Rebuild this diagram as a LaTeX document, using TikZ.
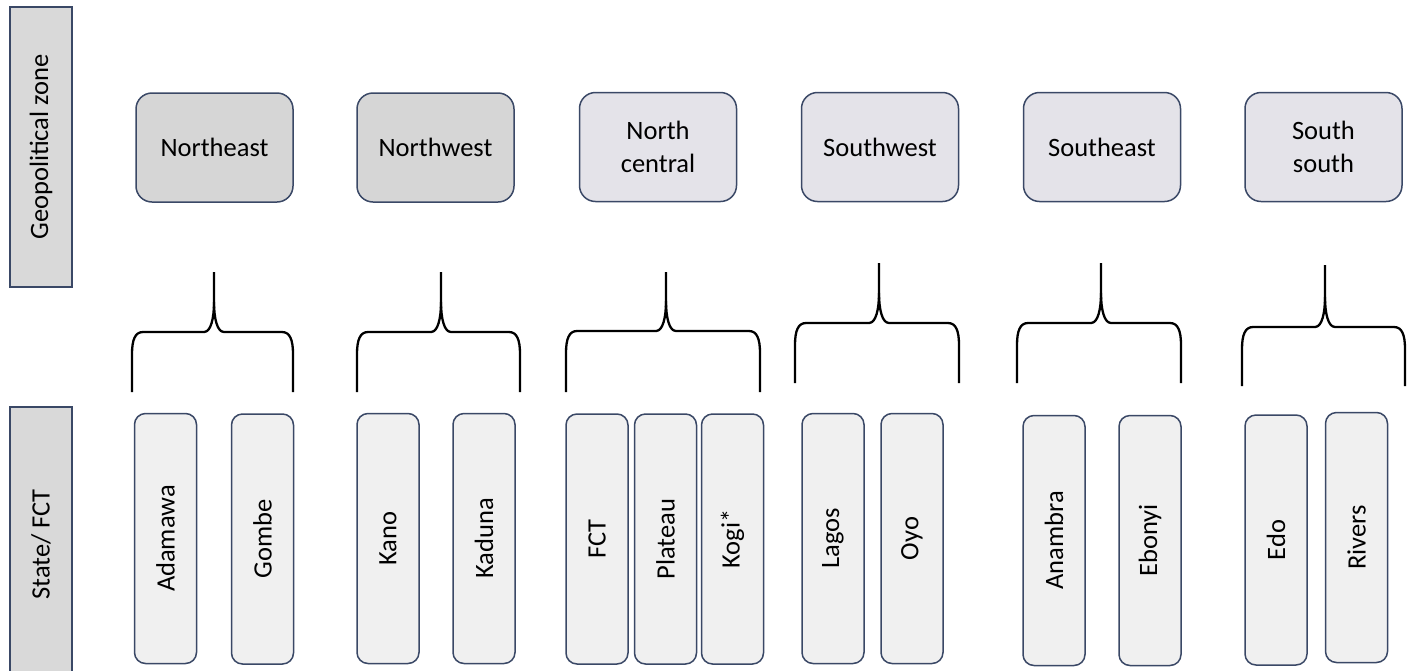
\documentclass[tikz,border=0pt]{standalone}
\usepackage{fontspec}
\setmainfont{Carlito}
\definecolor{boxline}{HTML}{3A4866}
\definecolor{zonedark}{HTML}{D6D6D6}
\definecolor{zonelight}{HTML}{E4E3E9}
\definecolor{statefill}{HTML}{F0F0F0}
\definecolor{sidefill}{HTML}{D9D9D9}
\newcommand{\boxfont}{\fontsize{26.5}{33}\selectfont}
\tikzset{
  zonebox/.style={rectangle,rounded corners=16pt,draw=boxline,line width=1.5pt,
    minimum width=157pt,minimum height=109pt,align=center,font=\boxfont},
  statebox/.style={rectangle,rounded corners=11pt,draw=boxline,fill=statefill,line width=1.5pt,
    rotate=90,minimum width=250pt,minimum height=62pt,inner sep=0pt,font=\boxfont},
  sidebox/.style={rectangle,draw=boxline,fill=sidefill,line width=1.5pt,
    rotate=90,minimum height=62pt,inner sep=0pt,font=\boxfont},
  bracket/.style={line width=2.3pt,line join=round}
}
% left, right, middle, top, bar, bottom
\newcommand{\zonebrace}[6]{%
  \draw[bracket] (#1,#6) -- (#1,#5+22) .. controls (#1,#5+8) and (#1+3,#5) .. (#1+11,#5)
    -- (#3-10,#5) .. controls (#3-3,#5) and (#3,#5-14) .. (#3,#5-30) -- (#3,#4);
  \draw[bracket] (#3,#5-30) .. controls (#3,#5-14) and (#3+3,#5) .. (#3+10,#5)
    -- (#2-11,#5) .. controls (#2-3,#5) and (#2,#5+8) .. (#2,#5+22) -- (#2,#6);
}

\begin{document}
\begin{tikzpicture}[x=1pt,y=-1pt]
    \useasboundingbox (0,0) rectangle (1411,670);

    % row labels
    \node[sidebox,minimum width=280pt] (geolabel) at (41,147) {Geopolitical zone};
    \node[sidebox,minimum width=275pt] (statelabel) at (41,544.5) {State/ FCT};

    % zones
    \node[zonebox,fill=zonedark] (ne) at (214.5,147.5) {Northeast};
    \node[zonebox,fill=zonedark] (nw) at (435.5,147.5) {Northwest};
    \node[zonebox,fill=zonelight] (nc) at (658,147) {North\\central};
    \node[zonebox,fill=zonelight] (sw) at (880,147) {Southwest};
    \node[zonebox,fill=zonelight] (se) at (1102,147) {Southeast};
    \node[zonebox,fill=zonelight] (ss) at (1323.5,147) {South\\south};

    % braces
    \zonebrace{132}{293}{214}{272}{332}{392}
    \zonebrace{357}{520}{441}{272}{332}{392}
    \zonebrace{566}{760}{666}{272}{331}{392}
    \zonebrace{795}{959}{879}{263}{323}{383}
    \zonebrace{1017}{1181}{1101}{263}{323}{383}
    \zonebrace{1242}{1405}{1325}{265}{327}{386}

    % states
    \node[statebox] (adamawa) at (165.5,538.5) {Adamawa};
    \node[statebox] (gombe) at (262.5,539) {Gombe};

    \node[statebox] (kano) at (388,538.5) {Kano};
    \node[statebox] (kaduna) at (484,538.5) {Kaduna};

    \node[statebox] (fct) at (597,539) {FCT};
    \node[statebox] (plateau) at (665.5,539) {Plateau};
    \node[statebox] (kogi) at (732.5,539) {Kogi*};

    \node[statebox] (lagos) at (833,538.5) {Lagos};
    \node[statebox] (oyo) at (912,538.5) {Oyo};

    \node[statebox] (anambra) at (1054,540.5) {Anambra};
    \node[statebox] (ebonyi) at (1150,540.5) {Ebonyi};

    \node[statebox] (edo) at (1276,540) {Edo};
    \node[statebox] (rivers) at (1356.5,537.5) {Rivers};
\end{tikzpicture}
\end{document}
